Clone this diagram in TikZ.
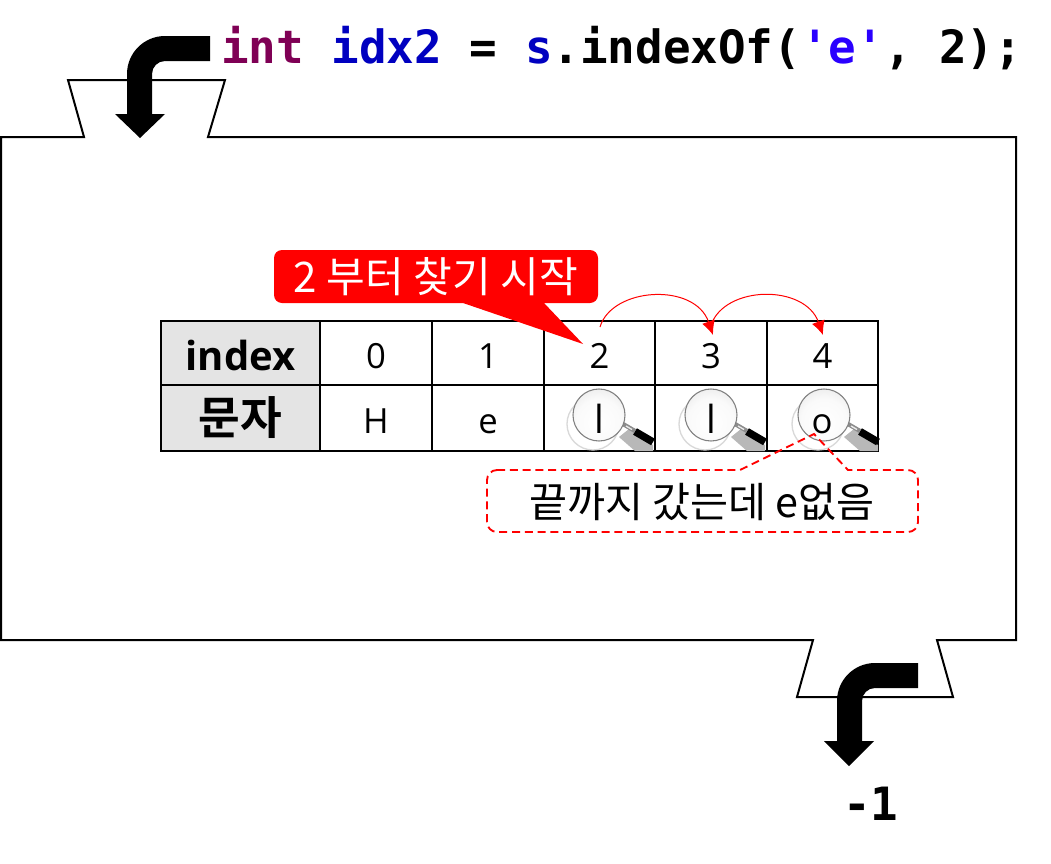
\documentclass[tikz,border=0pt]{standalone}
\usepackage{fontspec}
\usetikzlibrary{arrows.meta,calc}
\setmainfont{Open Sans}
\newfontfamily\krf{Noto Sans CJK KR}
\newfontfamily\krb{Noto Sans CJK KR}[BoldFont={Noto Sans CJK KR Bold}]
\newfontfamily\codef{DejaVu Sans Mono}
\definecolor{kw}{HTML}{7F0055}
\definecolor{fld}{HTML}{0000C0}
\definecolor{strc}{HTML}{2A00FF}
\definecolor{hdr}{HTML}{E4E4E4}
\pgfdeclareradialshading{glass}{\pgfpoint{0bp}{-8bp}}{
 color(0bp)=(white); color(22bp)=(black!2); color(38bp)=(black!10); color(50bp)=(black!24); color(58bp)=(black!50); color(100bp)=(black!50)}
\tikzset{
 px/.style={x=0.75pt,y=-0.75pt},
 outline/.style={draw=black,line width=1.5pt,line join=miter},
 cellbase/.style={draw=black,line width=1.5pt,inner sep=0pt,outer sep=0pt,anchor=north west},
 cell/.style={cellbase,text height=22.5pt,text depth=0pt,font=\fontsize{26}{26}\selectfont},
 hcell/.style={cellbase,fill=hdr,text height=26pt,text depth=0pt,font=\bfseries\fontsize{30}{30}\selectfont},
 kcell/.style={cellbase,fill=hdr,font=\krb\bfseries\fontsize{34}{34}\selectfont},
 flow/.style={fill=black,draw=none},
 hop/.style={draw=red,line width=0.75pt,-{Latex[length=10.5pt,width=10pt]}},
 code/.style={anchor=base west,inner sep=0pt,font=\codef\bfseries\fontsize{34.4}{34}\selectfont},
}
\newcommand{\mycell}[6]{\node[#1,minimum width=#4*0.75pt,minimum height=#5*0.75pt] (#2) at #3 {#6};}
\newcommand{\lens}[1]{%
 \begin{scope}[shift={#1}]
  \draw[draw=black!15,line width=1pt] (-6,9) circle (26);
  \fill[black!28] (20,22) -- (30,14) -- (54,30) -- (54,36) -- (36,36) -- cycle;
  \draw[black!45,line width=3.2pt] (24,9) -- (36,16);
  \draw[black!8,line width=1pt] (27,11) -- (33,14.5);
  \draw[black,line width=5.6pt] (36,16.5) -- (54,27);
  \shade[shading=glass] (0,0) circle (26);
  \draw[black!50,line width=0.8pt] (0,0) circle (26);
 \end{scope}}
\begin{document}
\begin{tikzpicture}[px]
\useasboundingbox (0,0) rectangle (1051,864);
\fill[white] (0,0) rectangle (1051,864);
% block
\draw[outline] (1,137) -- (84,137) -- (68,80) -- (225,80) -- (208,137) -- (1016,137) -- (1016,640) -- (937,640) -- (953,697) -- (797,697) -- (813,640) -- (1,640) -- cycle;
% flow arrows
\fill[flow] (210,36) -- (165,36) arc[start angle=90,end angle=180,radius=38*0.75pt] -- (127,114) -- (115,114) -- (140,138) -- (165,114) -- (152,114) -- (152,74) arc[start angle=180,end angle=90,radius=13*0.75pt] -- (210,61) -- cycle;
\fill[flow] (918,663) -- (875,663) arc[start angle=90,end angle=180,radius=38*0.75pt] -- (837,741) -- (824,741) -- (849,766) -- (874,741) -- (862,741) -- (862,701) arc[start angle=180,end angle=90,radius=13*0.75pt] -- (918,688) -- cycle;
% code
\node[code] (codeline) at (221,63) {\textcolor{kw}{int} \textcolor{fld}{idx2} = \textcolor{fld}{s}.indexOf(\textcolor{strc}{'e'}, 2);};
\node[code] (result) at (843,820) {-1};
% table
\mycell{hcell}{h1}{(161,321)}{159}{64}{index}
\mycell{cell}{c0}{(320,321)}{112}{64}{0}
\mycell{cell}{c1}{(432,321)}{112}{64}{1}
\mycell{cell}{c2}{(544,321)}{111}{64}{2}
\mycell{cell}{c3}{(655,321)}{112}{64}{3}
\mycell{cell}{c4}{(767,321)}{111}{64}{4}
\mycell{kcell}{h2}{(161,385)}{159}{66}{문자}
\mycell{cell}{d0}{(320,385)}{112}{66}{H}
\mycell{cell}{d1}{(432,385)}{112}{66}{e}
\mycell{cellbase}{d2}{(544,385)}{111}{66}{}
\mycell{cellbase}{d3}{(655,385)}{112}{66}{}
\mycell{cellbase}{d4}{(767,385)}{111}{66}{}
\lens{(599,415)}
\lens{(711,415)}
\lens{(824,415)}
\node[anchor=base,font=\fontsize{29}{29}\selectfont,inner sep=0] (l2) at (599,433) {l};
\node[anchor=base,font=\fontsize{29}{29}\selectfont,inner sep=0] (l3) at (711,433) {l};
\node[anchor=base,font=\fontsize{26}{26}\selectfont,inner sep=0] (l4) at (822,433) {o};
% red callout
\fill[red] (282,250) -- (590,250) arc[start angle=90,end angle=0,radius=8*0.75pt] -- (598,295) arc[start angle=0,end angle=-90,radius=8*0.75pt] -- (544,303) -- (583,344) -- (463,303) -- (282,303) arc[start angle=270,end angle=180,radius=8*0.75pt] -- (274,258) arc[start angle=180,end angle=90,radius=8*0.75pt] -- cycle;
\node[text=white,inner sep=0,font=\krf\fontsize{31.6}{32}\selectfont] (callout) at (436,277) {2 부터 찾기 시작};
% hops
\coordinate (s2) at (600,327);
\coordinate (t3) at (713,335);
\coordinate (s3) at (711,325);
\coordinate (t4) at (823,335);
\draw[hop] (s2) .. controls (612,287) and (695,282) .. (t3);
\draw[hop] (s3) .. controls (725,285) and (805,284) .. (t4);
% dashed note
\draw[draw=red,line width=1.4pt,dash pattern=on 6pt off 3.6pt] (497,470) -- (740,470) -- (814,434) -- (848,470) -- (908,470) arc[start angle=90,end angle=0,radius=10*0.75pt] -- (918,522) arc[start angle=0,end angle=-90,radius=10*0.75pt] -- (497,532) arc[start angle=270,end angle=180,radius=10*0.75pt] -- (487,480) arc[start angle=180,end angle=90,radius=10*0.75pt] -- cycle;
\node[inner sep=0,font=\krf\fontsize{31}{31}\selectfont] (note) at (702,502) {끝까지 갔는데 e없음};
\end{tikzpicture}
\end{document}
